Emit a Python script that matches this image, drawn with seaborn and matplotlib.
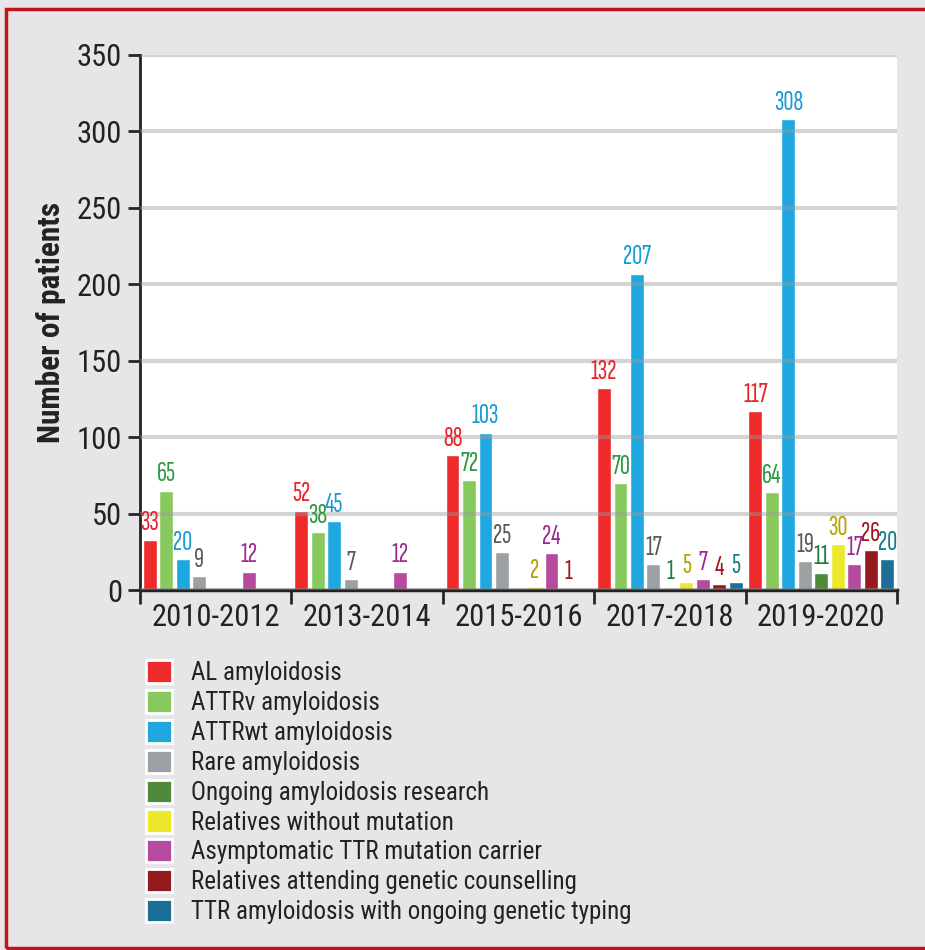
import numpy as np
import pandas as pd
import seaborn as sns
import matplotlib.pyplot as plt
from matplotlib.patches import Rectangle
from matplotlib.ticker import FixedLocator

# data
periods = ['2010-2012', '2013-2014', '2015-2016', '2017-2018', '2019-2020']
categories = ['AL amyloidosis', 'ATTRv amyloidosis', 'ATTRwt amyloidosis',
              'Rare amyloidosis', 'Ongoing amyloidosis research',
              'Relatives without mutation', 'Asymptomatic TTR mutation carrier',
              'Relatives attending genetic counselling',
              'TTR amyloidosis with ongoing genetic typing']
al = [33, 52, 88, 132, 117]
attrv = [65, 38, 72, 70, 64]
attrwt = [20, 45, 103, 207, 308]
rare = [9, 7, 25, 17, 19]
ongoing = [0, 0, 0, 1, 11]
relatives_wo = [0, 0, 2, 5, 30]
asymptomatic = [12, 12, 24, 7, 17]
relatives_gen = [0, 0, 1, 4, 26]
ttr_typing = [0, 0, 0, 5, 20]

bar_colors = ['#ee2a2a', '#88c95f', '#1fa8e0', '#9ea1a3', '#4e8a3a',
              '#ede82a', '#b54a9e', '#951a1f', '#1d6e96']
label_colors = ['#e8222a', '#2d9a3f', '#1a9ad6', '#5a5a5a', '#1e7b3e',
                '#b5a200', '#9b2a94', '#a3141e', '#137a86']

series = [al, attrv, attrwt, rare, ongoing, relatives_wo, asymptomatic,
          relatives_gen, ttr_typing]
rows = []
for cat, vals in zip(categories, series):
    for p, v in zip(periods, vals):
        rows.append({'Period': p, 'Category': cat, 'Patients': v})
df = pd.DataFrame(rows)

sns.set_style('white')
plt.rcParams['font.family'] = ['Roboto Condensed', 'DejaVu Sans']
label_font = ['Sofia Sans Extra Condensed', 'Roboto Condensed', 'DejaVu Sans']

fig = plt.figure(figsize=(9.25, 9.5), dpi=100)
fig.patch.set_facecolor('#e6e6e8')
ax = fig.add_axes([140 / 925, 1 - 590 / 950, 757 / 925, 535 / 950])
ax.set_facecolor('white')

sns.barplot(data=df, x='Period', y='Patients', hue='Category',
            hue_order=categories, palette=bar_colors, width=0.98, gap=0.16,
            saturation=1, ax=ax, legend=True)

# value labels, skip empty slots
for cont, vals, col in zip(ax.containers, series, label_colors):
    labels = [str(v) if v > 0 else '' for v in vals]
    ax.bar_label(cont, labels=labels, color=col, fontsize=20, padding=3,
                 family=label_font)

ax.set_xlim(-0.5, 4.5)
ax.set_ylim(0, 350)
ax.set_yticks(np.arange(0, 351, 50))
ax.yaxis.grid(True, color='#9a9a9a', lw=3, alpha=0.42)
ax.set_axisbelow(False)

ax.tick_params(axis='y', direction='out', length=9, width=2, labelsize=22,
               left=True, pad=4, labelcolor='#222222')
ax.tick_params(axis='x', which='major', length=0, labelsize=22, pad=9,
               labelcolor='#222222')
ax.xaxis.set_minor_locator(FixedLocator(np.arange(-0.5, 4.6, 1)))
ax.tick_params(axis='x', which='minor', direction='out', length=10, width=2,
               bottom=True)

for side in ['top', 'right']:
    ax.spines[side].set_visible(False)
ax.spines['left'].set_linewidth(2)
ax.spines['bottom'].set_linewidth(2.5)
ax.spines['left'].set_color('#222222')
ax.spines['bottom'].set_color('#222222')

ax.set_xlabel('')
ax.set_ylabel('Number of patients', fontsize=22.5, fontweight='bold',
              color='#222222')
ax.yaxis.set_label_coords(-74 / 757, 0.5)

handles, labs = ax.get_legend_handles_labels()
ax.get_legend().remove()
for h in handles:
    h.set_edgecolor('white')
    h.set_linewidth(2)
fig.legend(handles, labs, loc='upper left',
           bbox_to_anchor=(136 / 925, 1 - 650 / 950), frameon=False,
           fontsize=18, handlelength=1.05, handleheight=1.05,
           labelspacing=0.19, handletextpad=0.75, borderaxespad=0,
           labelcolor='#222222')

# red frame around the panel
fig.add_artist(Rectangle((6 / 925, 2 / 950), 1.0, 939 / 950,
                         transform=fig.transFigure, fill=False,
                         edgecolor='#c0141c', lw=2.5, clip_on=False))

fig.savefig('out.png', dpi=100, facecolor=fig.get_facecolor())
